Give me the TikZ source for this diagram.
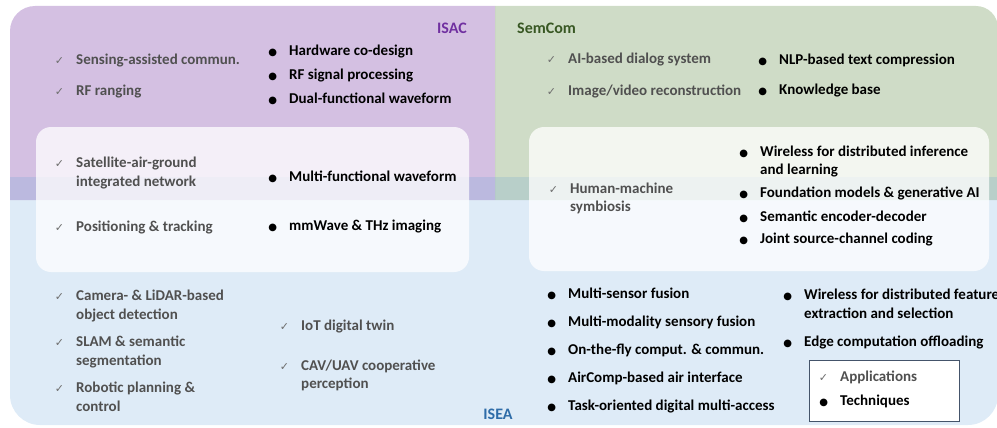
\documentclass[tikz,border=0pt]{standalone}
\usepackage{fontspec}
\setmainfont{Carlito}
\newfontfamily\symfont{DejaVu Sans}
\usepackage{xcolor}
\usepackage{tikz}
\usetikzlibrary{positioning}

\definecolor{isacpurple}{HTML}{7030A0}
\definecolor{semgreen}{HTML}{548235}
\definecolor{semtext}{HTML}{385723}
\definecolor{iseablue}{HTML}{5B9BD5}
\definecolor{iseatext}{HTML}{2E6CA8}
\definecolor{appgray}{HTML}{505050}
\definecolor{markgray}{HTML}{6E6E6E}
\definecolor{legendline}{HTML}{44546A}

\newcommand{\appmark}{\llap{{\symfont\fontsize{11}{11}\selectfont\color{markgray}✓}\hspace{12pt}}}
\newcommand{\techmark}{\llap{{\symfont\fontsize{10}{10}\selectfont\color{black}●}\hspace{12pt}}}

\begin{document}
\begin{tikzpicture}[x=1pt, y=-1pt]
    % Define styles
    \tikzstyle{item} = [anchor=west, inner sep=0pt, align=left, font=\bfseries\fontsize{15}{18.5}\selectfont]
    \tikzstyle{app} = [item, text=appgray]
    \tikzstyle{tech} = [item, text=black]
    \tikzstyle{heading} = [inner sep=0pt, font=\bfseries\fontsize{16}{16}\selectfont]
    \tikzstyle{whitebox} = [fill=white, fill opacity=0.75, rounded corners=15pt]

    \useasboundingbox (0,0) rectangle (997,428);

    % Regions
    \fill [isacpurple, fill opacity=0.3] (10,200) [rounded corners=25pt] -- (10,6) [sharp corners] -- (495,6) -- (495,200) -- cycle;
    \fill [semgreen, fill opacity=0.28] (495,200) -- (495,6) [rounded corners=22pt] -- (998,6) [sharp corners] -- (998,200) -- cycle;
    \fill [iseablue, fill opacity=0.2] (10,177) [rounded corners=30pt] -- (10,425) -- (998,425) [sharp corners] -- (998,177) -- cycle;

    % Shared areas
    \fill [whitebox] (36,127) rectangle (469,272);
    \fill [whitebox] (529,127) rectangle (989,271);

    % Headings
    \node [heading, text=isacpurple, anchor=east] (isac) at (467,28) {ISAC};
    \node [heading, text=semtext, anchor=west] (semcom) at (517,28) {SemCom};
    \node [heading, text=iseatext] (isea) at (498,414) {ISEA};

    % ISAC
    \node [app] (sensing) at (76,61) {\appmark Sensing-assisted commun.};
    \node [app] (ranging) at (76,92) {\appmark RF ranging};
    \node [tech] (hardware) at (289,52) {\techmark Hardware co-design};
    \node [tech] (rfsignal) at (289,75.5) {\techmark RF signal processing};
    \node [tech] (dualwave) at (289,99) {\techmark Dual-functional waveform};

    % ISAC and ISEA
    \node [app] (satellite) at (76,173) {\appmark Satellite-air-ground\\integrated network};
    \node [tech] (multiwave) at (289,177) {\techmark Multi-functional waveform};
    \node [app] (positioning) at (76,227) {\appmark Positioning \& tracking};
    \node [tech] (imaging) at (289,227) {\techmark mmWave \& THz imaging};

    % ISEA applications
    \node [app] (camera) at (76,306) {\appmark Camera- \& LiDAR-based\\object detection};
    \node [app] (slam) at (76,352) {\appmark SLAM \& semantic\\segmentation};
    \node [app] (robotic) at (76,397) {\appmark Robotic planning \&\\control};
    \node [app] (twin) at (301,327) {\appmark IoT digital twin};
    \node [app] (cav) at (301,375.5) {\appmark CAV/UAV cooperative\\perception};

    % SemCom
    \node [app] (dialog) at (568,60) {\appmark AI-based dialog system};
    \node [app] (video) at (568,91) {\appmark Image/video reconstruction};
    \node [tech] (nlp) at (779,60) {\techmark NLP-based text compression};
    \node [tech] (knowledge) at (779,91) {\techmark Knowledge base};

    % SemCom and ISEA
    \node [app] (symbiosis) at (570,198.5) {\appmark Human-machine\\symbiosis};
    \node [tech] (inference) at (760,161.5) {\techmark Wireless for distributed inference\\and learning};
    \node [tech] (foundation) at (760,193) {\techmark Foundation models \& generative AI};
    \node [tech] (encoder) at (760,217) {\techmark Semantic encoder-decoder};
    \node [tech] (jscc) at (760,240) {\techmark Joint source-channel coding};

    % ISEA techniques
    \node [tech] (sensor) at (568,294) {\techmark Multi-sensor fusion};
    \node [tech] (modality) at (568,322) {\techmark Multi-modality sensory fusion};
    \node [tech] (onthefly) at (568,350) {\techmark On-the-fly comput. \& commun.};
    \node [tech] (aircomp) at (568,378) {\techmark AirComp-based air interface};
    \node [tech] (access) at (568,406) {\techmark Task-oriented digital multi-access};
    \node [tech] (feature) at (804,304) {\techmark Wireless for distributed feature\\extraction and selection};
    \node [tech] (offload) at (804,342) {\techmark Edge computation offloading};

    % Legend
    \node [draw=legendline, fill=white, line width=0.8pt, minimum width=150pt, minimum height=61pt, inner sep=0pt] (legend) at (884,390.5) {};
    \node [app] (legapp) at (840,377) {\appmark Applications};
    \node [tech] (legtech) at (840,401) {\techmark Techniques};
\end{tikzpicture}
\end{document}
